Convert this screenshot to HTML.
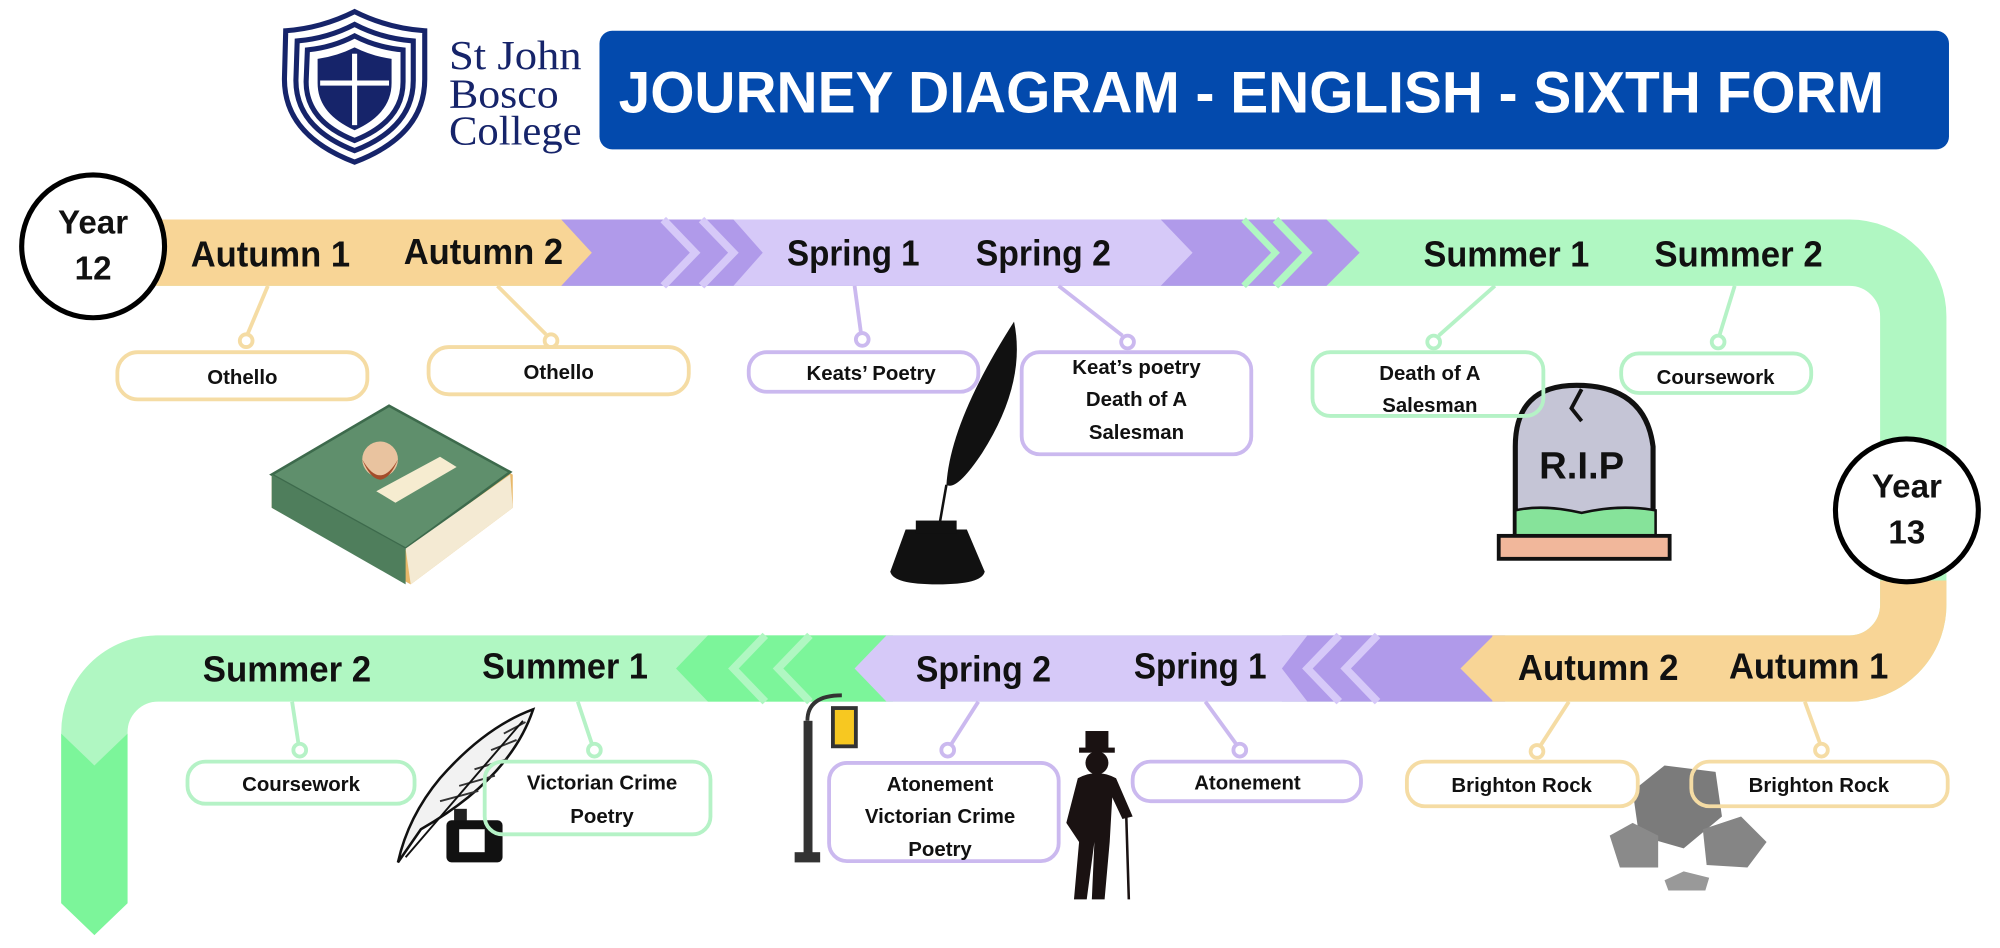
<!DOCTYPE html>
<html><head><meta charset="utf-8"><style>
html,body{margin:0;padding:0;background:#fff;}
svg{display:block}
text{font-family:"Liberation Sans",sans-serif;}
.bl{font-weight:bold;font-size:28px;fill:#111;text-anchor:middle}
.bx{font-weight:bold;font-size:16px;fill:#111;text-anchor:middle}
</style></head><body>
<svg width="2000" height="948" viewBox="0 0 1568 743" xmlns="http://www.w3.org/2000/svg">
<rect width="1568" height="743" fill="#fff"/>
<!-- Logo -->
<g fill="none" stroke="#16246a" stroke-width="4">
<path d="M224 24 Q252 22 278 9 Q304 22 333 24 L333 62 Q333 106 278 127 Q223 106 223 62 Z"/>
<path d="M233 32 Q257 30 278 19 Q299 30 324 32 L324 63 Q324 100 278 118 Q232 100 232 63 Z"/>
<path d="M241 39 Q261 37 278 28 Q295 37 316 39 L316 64 Q316 95 278 110 Q240 95 240 64 Z"/>
</g>
<path d="M249 46 Q264 44 278 37 Q292 44 307 46 L307 65 Q307 89 278 102 Q249 89 249 65 Z" fill="#16246a"/>
<rect x="276" y="42" width="4" height="56" fill="#fff"/>
<rect x="251" y="63" width="54" height="4" fill="#fff"/>
<g fill="#16246a" font-size="32">
<text x="352" y="54" style="font-family:'Liberation Serif',serif" textLength="104" lengthAdjust="spacingAndGlyphs">St John</text>
<text x="352" y="84" style="font-family:'Liberation Serif',serif" textLength="86" lengthAdjust="spacingAndGlyphs">Bosco</text>
<text x="352" y="113" style="font-family:'Liberation Serif',serif" textLength="104" lengthAdjust="spacingAndGlyphs">College</text>
</g>
<!-- Title -->
<rect x="470" y="24" width="1058" height="93" rx="10" fill="#034aad"/>
<text x="485" y="88" font-size="46" font-weight="bold" fill="#fff" textLength="992" lengthAdjust="spacingAndGlyphs">JOURNEY DIAGRAM - ENGLISH - SIXTH FORM</text>

<!-- Track base green -->
<path d="M120 198 H1450 A50 50 0 0 1 1500 248 V474 A50 50 0 0 1 1450 524 H124 A50 50 0 0 0 74 574 V708" fill="none" stroke="#b0f7c2" stroke-width="52"/>
<polygon points="48,575 74,600 100,575 100,708 74,733 48,708" fill="#7cf59a"/>
<!-- Top band overlays -->
<polygon points="440,172 1040,172 1066,198 1040,224 440,224" fill="#b09aea"/>
<polyline points="1000,172 1025,198 1000,224" fill="none" stroke="#b0f7c2" stroke-width="6"/>
<polyline points="975,172 1000,198 975,224" fill="none" stroke="#b0f7c2" stroke-width="5"/>
<polyline points="520,172 545,198 520,224" fill="none" stroke="#d6c9f8" stroke-width="6"/>
<polyline points="550,172 575,198 550,224" fill="none" stroke="#d6c9f8" stroke-width="6"/>
<polygon points="575,172 910,172 935,198 910,224 575,224 598,198" fill="#d6c9f8"/>
<polygon points="120,172 440,172 464,198 440,224 120,224" fill="#f8d596"/>
<!-- Bottom band overlays -->
<polygon points="555,498 700,498 700,550 555,550 530,524" fill="#7cf59a"/>
<polyline points="600,498 575,524 600,550" fill="none" stroke="#b0f7c2" stroke-width="6"/>
<polyline points="635,498 610,524 635,550" fill="none" stroke="#b0f7c2" stroke-width="6"/>
<polygon points="1005,498 1180,498 1180,550 1005,550 985,524" fill="#b09aea"/>
<polyline points="1050,498 1025,524 1050,550" fill="none" stroke="#d6c9f8" stroke-width="6"/>
<polyline points="1080,498 1055,524 1080,550" fill="none" stroke="#d6c9f8" stroke-width="6"/>
<polygon points="695,498 1025,498 1005,524 1025,550 695,550 670,524" fill="#d6c9f8"/>
<path d="M1500 455 V474 A50 50 0 0 1 1450 524 H1170" fill="none" stroke="#f8d596" stroke-width="52"/>
<polygon points="1171,498 1171,550 1145,524" fill="#f8d596"/>

<!-- Year circles -->
<circle cx="73" cy="193" r="56" fill="#fff" stroke="#000" stroke-width="4"/>
<text x="73" y="183" font-size="26" font-weight="bold" text-anchor="middle" fill="#111">Year</text>
<text x="73" y="219" font-size="26" font-weight="bold" text-anchor="middle" fill="#111">12</text>
<circle cx="1495" cy="400" r="56" fill="#fff" stroke="#000" stroke-width="4"/>
<text x="1495" y="390" font-size="26" font-weight="bold" text-anchor="middle" fill="#111">Year</text>
<text x="1495" y="426" font-size="26" font-weight="bold" text-anchor="middle" fill="#111">13</text>

<!-- Band labels -->
<text class="bl" x="212" y="209" textLength="125" lengthAdjust="spacingAndGlyphs">Autumn 1</text>
<text class="bl" x="379" y="207" textLength="125" lengthAdjust="spacingAndGlyphs">Autumn 2</text>
<text class="bl" x="669" y="208" textLength="104" lengthAdjust="spacingAndGlyphs">Spring 1</text>
<text class="bl" x="818" y="208" textLength="106" lengthAdjust="spacingAndGlyphs">Spring 2</text>
<text class="bl" x="1181" y="209" textLength="130" lengthAdjust="spacingAndGlyphs">Summer 1</text>
<text class="bl" x="1363" y="209" textLength="132" lengthAdjust="spacingAndGlyphs">Summer 2</text>
<text class="bl" x="225" y="534" textLength="132" lengthAdjust="spacingAndGlyphs">Summer 2</text>
<text class="bl" x="443" y="532" textLength="130" lengthAdjust="spacingAndGlyphs">Summer 1</text>
<text class="bl" x="771" y="534" textLength="106" lengthAdjust="spacingAndGlyphs">Spring 2</text>
<text class="bl" x="941" y="532" textLength="104" lengthAdjust="spacingAndGlyphs">Spring 1</text>
<text class="bl" x="1253" y="533" textLength="126" lengthAdjust="spacingAndGlyphs">Autumn 2</text>
<text class="bl" x="1418" y="532" textLength="125" lengthAdjust="spacingAndGlyphs">Autumn 1</text>

<!-- Connectors -->
<g stroke-width="3" fill="#fff">
<g stroke="#f5dca4"><line x1="210" y1="224" x2="194" y2="262"/><circle cx="193" cy="267" r="5"/>
<line x1="390" y1="224" x2="428" y2="262"/><circle cx="432" cy="267" r="5"/>
<line x1="1230" y1="550" x2="1208" y2="584"/><circle cx="1205" cy="589" r="5"/>
<line x1="1415" y1="550" x2="1427" y2="583"/><circle cx="1428" cy="588" r="5"/></g>
<g stroke="#cbb9ef"><line x1="670" y1="224" x2="675" y2="261"/><circle cx="676" cy="266" r="5"/>
<line x1="830" y1="224" x2="880" y2="263"/><circle cx="884" cy="268" r="5"/>
<line x1="767" y1="550" x2="746" y2="583"/><circle cx="743" cy="588" r="5"/>
<line x1="945" y1="550" x2="969" y2="583"/><circle cx="972" cy="588" r="5"/></g>
<g stroke="#b5f2c6"><line x1="1172" y1="224" x2="1128" y2="263"/><circle cx="1124" cy="268" r="5"/>
<line x1="1360" y1="224" x2="1348" y2="263"/><circle cx="1347" cy="268" r="5"/>
<line x1="229" y1="550" x2="234" y2="583"/><circle cx="235" cy="588" r="5"/>
<line x1="453" y1="550" x2="464" y2="583"/><circle cx="466" cy="588" r="5"/></g>
</g>

<!-- Illustrations -->
<g>
<polygon points="213,372 305,318 402,372 402,398 322,458 213,398" fill="#e8b86a"/>
<polygon points="213,372 305,318 400,370 318,430" fill="#5f8f6c" stroke="#3d6a4c" stroke-width="2"/>
<polygon points="213,372 318,430 318,458 213,398" fill="#4f7e5c"/>
<polygon points="318,430 400,372 402,398 322,458" fill="#f4ead3"/>
<polygon points="295,385 345,358 358,366 310,394" fill="#f6ecd0"/>
<circle cx="298" cy="360" r="14" fill="#e9c39f"/><path d="M284 360 Q298 385 312 360 Q306 375 298 376 Q290 375 284 360Z" fill="#a34d2a"/>
</g>
<path d="M795 252 Q805 300 770 355 Q750 385 742 380 Q745 330 795 252Z" fill="#111"/>
<line x1="742" y1="380" x2="735" y2="420" stroke="#111" stroke-width="2"/>
<path d="M710 415 H758 L772 448 Q770 458 735 458 Q700 458 698 448Z" fill="#111"/>
<rect x="718" y="408" width="32" height="10" fill="#111"/>
<path d="M1188 420 V350 Q1188 302 1236 302 Q1290 302 1296 350 V420Z" fill="#c5c5d6" stroke="#111" stroke-width="4"/>
<path d="M1240 305 L1232 320 L1240 330" fill="none" stroke="#111" stroke-width="3"/>
<text x="1240" y="375" font-size="30" font-weight="bold" text-anchor="middle" fill="#111">R.I.P</text>
<path d="M1188 400 Q1210 395 1240 402 Q1270 395 1298 400 V420 H1188Z" fill="#86e39a" stroke="#111" stroke-width="2"/>
<rect x="1175" y="420" width="134" height="18" fill="#f1b79b" stroke="#111" stroke-width="3"/>
<rect x="630" y="565" width="7" height="105" fill="#333"/>
<rect x="623" y="668" width="20" height="8" fill="#333"/>
<path d="M633 565 Q633 545 660 545" fill="none" stroke="#333" stroke-width="3"/>
<rect x="653" y="555" width="18" height="30" fill="#f7c821" stroke="#333" stroke-width="3"/>
<g fill="#1a1212">
<rect x="851" y="573" width="18" height="14"/><rect x="846" y="586" width="28" height="4"/>
<circle cx="860" cy="598" r="9"/>
<path d="M845 610 Q860 602 875 610 L888 640 L880 642 L872 625 L870 660 L866 705 L856 705 L858 660 L852 705 L842 705 L846 660 L836 645 Z"/>
<line x1="883" y1="640" x2="885" y2="705" stroke="#1a1212" stroke-width="2"/>
</g>
<path d="M418 556 Q400 610 330 650 L312 676 Q320 640 345 610 Q380 570 418 556Z" fill="#f2f2f2" stroke="#111" stroke-width="2"/>
<path d="M412 566 L395 575 M405 580 L385 588 M398 595 L372 603 M388 608 L360 616 M375 620 L345 628" stroke="#333" stroke-width="1.5"/>
<line x1="410" y1="565" x2="318" y2="672" stroke="#111" stroke-width="1.5"/>
<rect x="356" y="634" width="10" height="10" fill="#222"/>
<rect x="350" y="643" width="44" height="33" rx="4" fill="#111"/><rect x="360" y="650" width="20" height="18" fill="#fff"/>
<polygon points="1280,620 1305,600 1345,605 1350,640 1320,665 1285,655" fill="#7b7b7b"/>
<polygon points="1262,655 1280,645 1300,655 1300,680 1270,680" fill="#8a8a8a"/>
<polygon points="1335,650 1365,640 1385,660 1370,680 1338,678" fill="#858585"/>
<polygon points="1305,690 1320,683 1340,688 1337,698 1308,698" fill="#999"/>

<!-- Boxes -->
<g stroke-width="3" fill="#fff">
<rect x="92" y="276" width="196" height="37" rx="16" stroke="#f5dca4"/>
<rect x="336" y="272" width="204" height="37" rx="16" stroke="#f5dca4"/>
<rect x="587" y="276" width="180" height="31" rx="14" stroke="#cbb9ef"/>
<rect x="801" y="276" width="180" height="80" rx="14" stroke="#cbb9ef"/>
<rect x="1029" y="276" width="181" height="50" rx="14" stroke="#b5f2c6" fill="none"/>
<rect x="1271" y="277" width="149" height="31" rx="14" stroke="#b5f2c6"/>
<rect x="147" y="597" width="178" height="33" rx="14" stroke="#b5f2c6"/>
<rect x="380" y="597" width="177" height="57" rx="14" stroke="#b5f2c6" fill="none"/>
<rect x="650" y="598" width="180" height="77" rx="14" stroke="#cbb9ef"/>
<rect x="888" y="597" width="179" height="31" rx="14" stroke="#cbb9ef"/>
<rect x="1103" y="597" width="181" height="35" rx="14" stroke="#f5dca4"/>
<rect x="1326" y="597" width="201" height="35" rx="14" stroke="#f5dca4" fill="none"/>
</g>
<text class="bx" x="190" y="301">Othello</text>
<text class="bx" x="438" y="297">Othello</text>
<text class="bx" x="683" y="298">Keats’ Poetry</text>
<text class="bx" x="891" y="293">Keat’s poetry</text>
<text class="bx" x="891" y="318">Death of A</text>
<text class="bx" x="891" y="344">Salesman</text>
<text class="bx" x="1121" y="298">Death of A</text>
<text class="bx" x="1121" y="323">Salesman</text>
<text class="bx" x="1345" y="301">Coursework</text>
<text class="bx" x="236" y="620">Coursework</text>
<text class="bx" x="472" y="619">Victorian Crime</text>
<text class="bx" x="472" y="645">Poetry</text>
<text class="bx" x="737" y="620">Atonement</text>
<text class="bx" x="737" y="645">Victorian Crime</text>
<text class="bx" x="737" y="671">Poetry</text>
<text class="bx" x="978" y="619">Atonement</text>
<text class="bx" x="1193" y="621">Brighton Rock</text>
<text class="bx" x="1426" y="621">Brighton Rock</text>
</svg>
</body></html>
